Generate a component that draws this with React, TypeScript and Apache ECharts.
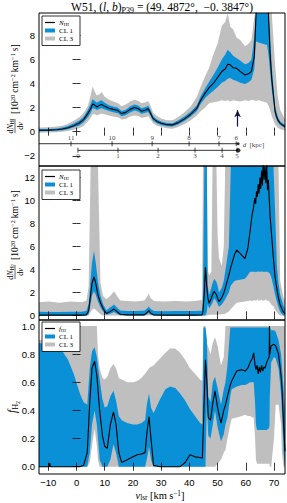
import React, { useEffect, useRef } from 'react';
import * as echarts from 'echarts';

// ---------------- data: panel 1 (H I column density) ----------------
const velHI = [-13.3,-10,-7,-5,-3,-1,1,2.5,4,5, 5.7,6.5,7.2,8.2,8.9,10,11.5,13,14.7,16, 17.5,19,20.6,22,23,24.5,25.4,26.3,27.1,28.5, 30,32,34,36,38.5,40.5,42.6,44,45.6,47, 48.5,50,51.5,52.7,53.6,54.5,55.5,56.8,58,59.7, 61,62,63,63.6,64.5,66,67.5,68,68.6,69.2, 70.4,71.3,72.2,73.9];
const nHI = [0.12,0.13,0.16,0.22,0.32,0.5,0.72,1.0,1.5,1.9, 2.3,2.2,2.05,2.2,2.25,2.1,1.95,1.85,1.75,1.5, 1.6,1.85,2.0,1.9,1.7,1.8,1.9,1.5,1.1,0.85, 0.7,0.58,0.56,0.75,1.1,1.45,1.93,2.6,3.2,3.65, 4.0,4.5,5.0,5.2,5.6,5.55,5.3,5.25,5.0,4.7, 4.8,5.0,6.2,9.5,14,16,14,10,6.5,4.4, 1.65,1.0,0.69,0.41];
const nHIcl1Lo = [0.04,0.05,0.07,0.12,0.2,0.36,0.52,0.78,1.2,1.55, 1.95,1.9,1.8,1.9,1.95,1.85,1.72,1.62,1.52,1.28, 1.38,1.6,1.75,1.65,1.48,1.56,1.63,1.28,0.92,0.7, 0.56,0.45,0.43,0.6,0.92,1.25,1.7,2.3,2.8,3.1, 3.4,3.7,4.05,4.2,4.4,4.45,4.3,4.2,4.05,3.95, 4.1,4.3,5.2,7.5,7.4,7.3,7.2,6.5,5.0,3.5, 1.3,0.8,0.55,0.3];
const nHIcl1Hi = [0.22,0.23,0.27,0.34,0.46,0.67,0.92,1.22,1.8,2.3, 2.7,2.55,2.4,2.55,2.6,2.4,2.2,2.08,1.98,1.72, 1.82,2.1,2.25,2.15,1.95,2.05,2.15,1.75,1.3,1.02, 0.85,0.72,0.7,0.92,1.3,1.68,2.18,2.95,3.6,4.15, 4.7,5.3,6.0,6.4,6.8,6.6,6.3,6.1,5.9,5.6, 5.7,6.0,7.8,14,20,22,20,15,8.2,5.4, 2.1,1.25,0.85,0.55];
const nHIcl3Lo = [-0.08,-0.07,-0.05,0,0.05,0.15,0.3,0.5,0.85,1.15, 1.45,1.45,1.35,1.45,1.5,1.45,1.35,1.25,1.2,1.0, 1.05,1.25,1.35,1.28,1.15,1.2,1.3,1.0,0.7,0.5, 0.38,0.28,0.25,0.38,0.65,0.95,1.35,1.7,2.0,2.35, 2.45,2.5,2.6,2.55,2.6,2.5,2.6,2.55,2.5,2.6, 2.55,2.65,2.6,2.55,2.6,2.5,2.4,2.2,1.8,1.3, 0.6,0.35,0.2,0.1];
const nHIcl3Hi = [0.35,0.37,0.42,0.5,0.65,0.9,1.2,1.55,2.1,3.0, 3.75,3.3,3.0,3.1,3.3,2.9,2.65,2.5,2.35,2.1, 2.25,2.5,2.65,2.55,2.35,2.45,2.55,2.1,1.6,1.3, 1.1,0.95,0.95,1.2,1.65,2.1,2.85,3.7,4.6,5.3, 6.4,7.3,8.8,9.1,9.8,8.7,8.5,7.8,7.6,7.1, 7.3,7.6,9.5,16,22,24,22,17,14,12, 5.5,3.0,1.8,1.0];

// distance scale inside panel 1 (kpc and the velocity where each tick sits)
const distNear = [11, 10, 9, 8, 7, 6];
const distNearVel = [-1.95, 12.6, 26.8, 39.9, 50.5, 56.6];
const distFar = [0, 1, 2, 3, 4, 5];
const distFarVel = [0.5, 14.7, 28.9, 42.0, 51.6, 56.9];
const distNearLevel = -1.0;
const distFarLevel = -1.55;
const distNearSpan = [-13.3, 57.3];
const distFarSpan = [0.5, 57.3];
const arrowVel = 57.1;
const arrowFromTo = [0.42, 1.78];

// ---------------- data: panel 2 (H2 column density) ----------------
const velH2 = [-13.3,-10,-6,-2,2,3.5,4.3,5.0,5.5,6.2, 6.8,7.6,8.5,9.4,10.6,12,13.3,14.5,15.5,18, 21,24,25,25.6,26.3,27.5,31,35,39,42, 44.5,44.8,45.3,45.7,46.2,46.5,47.0,47.8,48.2,48.8, 49.6,50.0,50.5,51.5,52.2,52.7,54.0,54.7,56.0,56.8, 58.0,59.7,60.7,61.5,62.2,62.7,63.2,63.5,63.8,64.1, 64.4,64.7,65.0,65.3,65.6,65.9,66.2,66.5,66.8,67.1, 67.4,67.7,68.0,68.3,68.6,69.2,69.8,70.4,71.0,71.6, 72.2,73.3,73.9];
const nH2 = [0.02,0.02,0.02,0.02,0.02,0.05,0.4,1.8,2.8,3.36, 2.8,1.77,1.1,0.6,0.17,0.35,0.55,0.3,0.1,0.05, 0.05,0.05,0.25,0.42,0.2,0.03,0.02,0.02,0.02,0.02, 0.05,0.3,2.0,4.2,2.4,1.6,1.05,1.5,1.8,2.1, 1.8,1.5,1.2,1.55,1.95,2.35,3.5,4.2,5.3,5.68, 5.4,4.95,5.8,7.3,8.7,9.3,10.2,9.7,10.8,10.3, 11.4,10.6,12.0,11.0,12.6,11.3,13.4,11.8,12.9,11.5, 13.2,10.9,11.8,10.2,8.7,6.8,4.95,3.3,2.35,1.5, 0.9,0.3,0.15];
const nH2cl1Lo = [0,0,0,0,0,0,0.1,1.0,1.7,2.1, 1.8,1.2,0.7,0.35,0.05,0.15,0.3,0.12,0.02,0, 0,0,0.08,0.2,0.06,0,0,0,0,0, 0,0,0,0,0.3,1.0,0.6,0.9,1.1,1.5, 1.2,1.0,0.75,0.95,1.2,1.4,2.0,2.6,3.0,3.05, 3.1,3.2,3.5,3.8,3.8,3.8,3.8,3.75,3.8,3.8, 3.85,3.8,3.8,3.8,3.85,3.8,3.8,3.8,3.8,3.8, 3.8,3.8,3.75,3.7,3.6,3.2,2.5,1.8,1.2,0.7, 0.3,0,0];
const nH2cl1Hi = [0.32,0.3,0.3,0.32,0.32,0.4,1.0,3.2,4.6,5.6, 4.6,2.9,1.7,1.0,0.45,0.7,0.95,0.65,0.42,0.38, 0.38,0.4,0.6,0.78,0.55,0.38,0.36,0.38,0.38,0.38, 0.4,1.5,16,16,16,2.6,1.8,2.4,2.8,3.2, 2.9,2.6,2.0,2.4,3.0,3.8,6.0,16,16,16, 16,16,16,16,16,16,16,16,16,16, 16,16,16,16,16,16,16,16,16,16, 16,16,16,16,16,16,16,9,4.5,2.8, 1.8,0.9,0.6];
const nH2cl3Lo = [0,0,0,0,0,0,0,0.3,0.5,0.6, 0.5,0.3,0.1,0,0,0,0,0,0,0, 0,0,0,0,0,0,0,0,0,0, 0,0,0,0,0,0,0.05,0.05,0.05,0.05, 0.05,0.05,0.05,0.1,0.12,0.15,0.35,0.55,0.9,1.1, 1.15,1.2,1.25,1.3,1.25,1.3,1.35,1.28,1.3,1.4, 1.3,1.25,1.35,1.3,1.38,1.3,1.25,1.35,1.3,1.4, 1.3,1.25,1.3,1.2,1.1,0.9,0.8,0.5,0.3,0.1, 0,0,0];
const nH2cl3Hi = [1.15,1.2,1.1,1.2,1.15,1.3,2.5,16,16,16, 16,16,2.8,1.7,1.4,1.7,2.1,1.65,1.3,1.25, 1.2,1.3,1.6,1.9,1.5,1.25,1.2,1.25,1.2,1.25, 1.35,16,16,16,16,4.0,3.5,3.8,16,16, 16,7,5,4.3,6,16,16,16,16,16, 16,16,16,16,16,16,16,16,16,16, 16,16,16,16,16,16,16,16,16,16, 16,16,16,16,16,16,16,16,16,16, 3.0,1.6,1.3];

// ---------------- data: panel 3 (molecular fraction) ----------------
const velF = [-13.3,-11,-9.7,-9.5,-9.3,-7,-5,-3,-1,1.2, 2.5,3.8,4.7,5.5,6.4,7.2,7.6,8.2,9.2,10.0, 10.9,12.0,13.1,14.0,15.0,16.0,18.0,20.0,21.5,23.0, 24.3,25.0,25.7,26.4,27.3,29.6,31.5,33.2,35.0,36.7, 38.5,40.2,42.0,43.8,44.6,45.0,45.7,46.2,46.7,47.5, 48.3,49.1,50.0,51.2,52.2,52.8,53.5,54.5,55.0,56.8, 58.6,59.8,60.7,61.5,62.3,62.8,63.3,63.6,64.0,64.4, 64.8,65.2,65.6,66.0,66.4,66.8,67.4,68.0,68.3,68.4, 68.5,69.0,70.0,70.6,71.6,72.5,72.8,73.4,73.9];
const fH2 = [0,0,0,0.025,0,0,0,0,0,0, 0.01,0.1,0.46,0.7,0.75,0.65,0.55,0.4,0.22,0.145, 0.13,0.3,0.39,0.3,0.1,0.03,0.05,0.07,0.085,0.09, 0.1,0.25,0.355,0.2,0.01,0,0,0,0,0, 0.03,0.085,0.07,0.065,0.06,0.3,0.76,0.6,0.35,0.33, 0.45,0.54,0.42,0.31,0.4,0.44,0.5,0.58,0.61,0.68, 0.69,0.68,0.7,0.74,0.77,0.81,0.72,0.69,0.72,0.66, 0.71,0.67,0.72,0.68,0.71,0.7,0.74,0.77,0.78,1.0, 0.8,0.86,0.87,0.86,0.8,0.65,0.57,0.3,0.11];
const fH2cl1Lo = [0,0,0,0,0,0,0,0,0,0, 0,0,0.1,0.3,0.4,0.3,0.2,0.05,0,0, 0,0.05,0.16,0.1,0,0,0,0,0,0, 0,0.06,0.14,0.05,0,0,0,0,0,0, 0,0,0,0,0,0,0,0.45,0.22,0.2, 0.3,0.4,0.28,0.18,0.23,0.3,0.35,0.5,0.55,0.57, 0.58,0.58,0.59,0.6,0.6,0.6,0.45,0.3,0.26,0.26, 0.26,0.26,0.26,0.26,0.26,0.26,0.26,0.27,0.28,0.3, 0.5,0.74,0.78,0.77,0.7,0.52,0.4,0.1,0];
const fH2cl1Hi = [0.88,0.87,0.87,0.87,0.87,0.86,0.82,0.76,0.66,0.52, 0.46,0.44,0.7,0.82,0.85,0.78,0.72,0.62,0.48,0.42, 0.43,0.5,0.54,0.47,0.36,0.33,0.31,0.3,0.3,0.31, 0.33,0.45,0.52,0.42,0.38,0.48,0.55,0.57,0.56,0.52, 0.47,0.41,0.36,0.31,0.3,0.99,0.99,0.9,0.5,0.46, 0.6,0.64,0.56,0.44,0.55,0.6,0.72,0.99,0.99,0.99, 0.99,0.99,0.99,0.99,0.99,0.99,0.99,0.99,0.99,0.99, 0.99,0.99,0.99,0.99,0.99,0.99,0.99,0.99,0.99,0.99, 0.99,0.97,0.97,0.96,0.9,0.8,0.72,0.55,0.4];
const fH2cl3Lo = [0,0,0,0,0,0,0,0,0,0, 0,0,0.03,0.15,0.27,0.15,0.05,0,0,0, 0,0,0,0,0,0,0,0,0,0, 0,0,0,0,0,0,0,0,0,0, 0,0,0,0,0,0,0,0,0,0, 0,0,0.02,0.05,0.1,0.12,0.2,0.3,0.34,0.35, 0.36,0.37,0.36,0.36,0.35,0.35,0.2,0.05,0.02,0.02, 0.02,0.02,0.02,0.02,0.02,0.02,0.02,0.02,0.02,0.02, 0,0,0.2,0.44,0.44,0.3,0.1,0,0];
const fH2cl3Hi = [0.9,0.9,0.91,0.91,0.91,0.93,0.96,0.97,1.0,1.0, 1.0,1.0,1.0,1.0,1.0,1.0,0.8,0.7,0.63,0.62, 0.64,0.7,0.73,0.7,0.63,0.62,0.6,0.6,0.61,0.63, 0.66,0.68,0.7,0.71,0.72,0.77,0.81,0.84,0.84,0.81, 0.76,0.7,0.66,0.62,0.61,1.0,1.0,0.88,0.85,0.8, 0.88,0.92,0.86,0.72,0.78,1.0,1.0,1.0,1.0,1.0, 1.0,1.0,1.0,1.0,1.0,1.0,1.0,1.0,1.0,1.0, 1.0,1.0,1.0,1.0,1.0,1.0,1.0,1.0,1.0,1.0, 1.0,1.0,1.0,1.0,1.0,1.0,1.0,1.0,1.0];

// ---------------- ticks ----------------
const velTicks = [-10, 0, 10, 20, 30, 40, 50, 60, 70];
const hiTicks = [-2, 0, 2, 4, 6, 8];
const h2Ticks = [0, 2, 4, 6, 8, 10, 12];
const fTicks = [0, 0.2, 0.4, 0.6, 0.8, 1.0];

// ---------------- styling / layout ----------------
const BLUE = '#0a90d6';
const GRAY = '#bfbfbf';
const SERIF = "'Liberation Serif', 'DejaVu Serif', serif";
const SANS = "'Liberation Sans', 'DejaVu Sans', sans-serif";
const X_MIN = -13.3;
const X_MAX = 73.9;
const PANELS = [
  { top: 13, height: 153, min: -2.85, max: 9.85, ticks: hiTicks, fmt: (v: number) => (v < 0 ? '\u2212' + Math.abs(v) : String(v)) },
  { top: 166, height: 154, min: -0.4, max: 13.0, ticks: h2Ticks, fmt: (v: number) => String(v) },
  { top: 320, height: 154, min: -0.052, max: 1.043, ticks: fTicks, fmt: (v: number) => v.toFixed(1) },
];
const LEFT = 39;
const WIDTH = 246;

function richSet(s: number, compact = false) {
  const lh = compact ? s * 1.0 : s * 1.3;
  return {
    r: { fontFamily: SERIF, fontSize: s, lineHeight: lh, verticalAlign: 'middle', color: '#000' },
    i: { fontFamily: SERIF, fontSize: s, fontStyle: 'italic', lineHeight: lh, verticalAlign: 'middle', color: '#000' },
    sup: { fontFamily: SERIF, fontSize: s * 0.7, lineHeight: s * 0.7, verticalAlign: 'top', color: '#000' },
    sub: { fontFamily: SERIF, fontSize: s * 0.7, lineHeight: s * 0.7, verticalAlign: 'top', padding: [compact ? s * 0.4 : s * 0.62, 0, 0, 0], color: '#000' },
    sub2: { fontFamily: SERIF, fontSize: s * 0.5, lineHeight: s * 0.5, verticalAlign: 'top', padding: [compact ? s * 0.55 : s * 0.95, 0, 0, 0], color: '#000' },
  };
}

function txt(x: number, y: number, text: string, size: number, align = 'left', valign = 'middle', z = 100, compact = false) {
  return {
    type: 'text', x, y, z,
    style: {
      text, rich: richSet(size, compact), fill: '#000', fontFamily: SERIF, fontSize: size,
      align, verticalAlign: valign, textAlign: align, textVerticalAlign: valign,
    },
  };
}

function legendEls(x: number, y: number, first: string) {
  const z = 100;
  return [
    { type: 'rect', z, shape: { x, y, width: 38, height: 29.5 }, style: { fill: '#fff', stroke: '#000', lineWidth: 0.8 } },
    { type: 'line', z: z + 1, shape: { x1: x + 3, y1: y + 6.5, x2: x + 13, y2: y + 6.5 }, style: { stroke: '#000', lineWidth: 1.2 } },
    { type: 'rect', z: z + 1, shape: { x: x + 3, y: y + 12.5, width: 10, height: 4 }, style: { fill: BLUE } },
    { type: 'rect', z: z + 1, shape: { x: x + 3, y: y + 20.5, width: 10, height: 4 }, style: { fill: GRAY } },
    txt(x + 17, y + 6.5, first, 7, 'left', 'middle', z + 1, true),
    txt(x + 17, y + 14.5, '{r|CL 1}', 7, 'left', 'middle', z + 1, true),
    txt(x + 17, y + 22.5, '{r|CL 3}', 7, 'left', 'middle', z + 1, true),
  ];
}

function yTitleFrac(cx: number, cy: number, numer: string) {
  return {
    type: 'group', x: cx, y: cy, rotation: Math.PI / 2,
    children: [
      txt(0, -0.5, numer, 8, 'center', 'bottom', 5, true),
      { type: 'line', z: 5, shape: { x1: -7, y1: 0.5, x2: 7, y2: 0.5 }, style: { stroke: '#000', lineWidth: 0.6 } },
      txt(0, 1.5, '{r|d}{i|v}', 8, 'center', 'top', 5, true),
      txt(12, 0.5, '{r|[10}{sup|20}{r|\u2009cm}{sup|\u22122}{r|\u2009km}{sup|\u22121}{r|\u2009s]}', 9.5, 'left', 'middle', 5),
    ],
  };
}

const pairs = (v: number[], y: number[]) => v.map((x, i) => [x, y[i]]);

function bandSeries(gi: number, v: number[], lo: number[], hi: number[], color: string, name: string) {
  const p = PANELS[gi];
  const cl = (y: number) => Math.max(p.min, Math.min(p.max, y));
  return {
    type: 'custom', name, xAxisIndex: gi * 2, yAxisIndex: gi * 2, clip: true, silent: true, z: 2,
    data: v.map((x, i) => [x, lo[i], hi[i]]),
    renderItem: (params: any, api: any) => {
      if (params.dataIndex !== 0) return null;
      const top = v.map((x, i) => api.coord([x, cl(hi[i])]));
      const bot = v.map((x, i) => api.coord([x, cl(lo[i])])).reverse();
      return { type: 'polygon', shape: { points: top.concat(bot) }, style: { fill: color, stroke: null } };
    },
  };
}

function lineSeries(gi: number, v: number[], y: number[], name: string) {
  return {
    type: 'line', name, xAxisIndex: gi * 2, yAxisIndex: gi * 2, data: pairs(v, y), clip: true,
    symbol: 'none', showSymbol: false, silent: true, lineStyle: { color: '#000', width: 1.1 }, z: 3,
  };
}

export default function App() {
  const ref = useRef<HTMLDivElement>(null);
  useEffect(() => {
    if (!ref.current) return;
    const chart = echarts.init(ref.current, undefined, { renderer: 'svg' });

    const grid = PANELS.map((p) => ({
      left: LEFT, top: p.top, width: WIDTH, height: p.height, show: true,
      borderColor: '#000', borderWidth: 1, backgroundColor: 'transparent', z: 10,
    }));

    const tick = (vals: number[]) => ({ show: true, inside: true, length: 4, customValues: vals, lineStyle: { color: '#000', width: 0.8 } });

    const xAxis: any[] = [];
    const yAxis: any[] = [];
    PANELS.forEach((p, gi) => {
      xAxis.push({
        type: 'value', gridIndex: gi, position: 'bottom', min: X_MIN, max: X_MAX, z: 10,
        axisLine: { show: false }, splitLine: { show: false }, axisTick: tick(velTicks),
        axisLabel: {
          show: gi === 2, customValues: velTicks, margin: 3, color: '#000', fontFamily: SANS, fontSize: 9.5,
          formatter: (v: number) => (v < 0 ? '\u2212' + Math.abs(v) : String(v)),
        },
      });
      xAxis.push({
        type: 'value', gridIndex: gi, position: 'top', min: X_MIN, max: X_MAX, z: 10,
        axisLine: { show: false }, splitLine: { show: false }, axisTick: tick(velTicks), axisLabel: { show: false },
      });
      yAxis.push({
        type: 'value', gridIndex: gi, position: 'left', min: p.min, max: p.max, z: 10,
        axisLine: { show: false }, splitLine: { show: false }, axisTick: tick(p.ticks),
        axisLabel: { show: true, customValues: p.ticks, margin: 4, color: '#000', fontFamily: SANS, fontSize: 9.5, formatter: p.fmt },
      });
      yAxis.push({
        type: 'value', gridIndex: gi, position: 'right', min: p.min, max: p.max, z: 10,
        axisLine: { show: false }, splitLine: { show: false }, axisTick: tick(p.ticks), axisLabel: { show: false },
      });
    });

    const distLabel = { fontFamily: SERIF, fontSize: 7, color: '#000' };

    const series: any[] = [
      bandSeries(0, velHI, nHIcl3Lo, nHIcl3Hi, GRAY, 'CL 3'),
      bandSeries(0, velHI, nHIcl1Lo, nHIcl1Hi, BLUE, 'CL 1'),
      lineSeries(0, velHI, nHI, 'N_HI'),
      bandSeries(1, velH2, nH2cl3Lo, nH2cl3Hi, GRAY, 'CL 3'),
      bandSeries(1, velH2, nH2cl1Lo, nH2cl1Hi, BLUE, 'CL 1'),
      lineSeries(1, velH2, nH2, 'N_H2'),
      bandSeries(2, velF, fH2cl3Lo, fH2cl3Hi, GRAY, 'CL 3'),
      bandSeries(2, velF, fH2cl1Lo, fH2cl1Hi, BLUE, 'CL 1'),
      lineSeries(2, velF, fH2, 'f_H2'),
      // distance scales
      {
        type: 'line', name: 'near distance', xAxisIndex: 0, yAxisIndex: 0, z: 6, silent: true, symbol: 'none',
        data: distNearSpan.map((v) => [v, distNearLevel]), lineStyle: { color: '#000', width: 0.8 },
        markLine: {
          silent: true, symbol: ['none', 'arrow'], symbolSize: [5, 7], label: { show: false },
          lineStyle: { color: '#14143c', width: 1.2, type: 'solid' },
          data: [[{ coord: [arrowVel, arrowFromTo[0]] }, { coord: [arrowVel, arrowFromTo[1]] }]],
        },
      },
      {
        type: 'line', name: 'far distance', xAxisIndex: 0, yAxisIndex: 0, z: 6, silent: true, symbol: 'none',
        data: distFarSpan.map((v) => [v, distFarLevel]), lineStyle: { color: '#000', width: 0.8 },
      },
      {
        type: 'scatter', name: 'near ticks', xAxisIndex: 0, yAxisIndex: 0, z: 6, silent: true,
        symbol: 'rect', symbolSize: [0.9, 5], itemStyle: { color: '#000' },
        data: distNearVel.map((v, i) => ({ value: [v, distNearLevel], name: String(distNear[i]) })),
        label: { show: true, position: 'top', distance: 0, formatter: '{b}', ...distLabel },
      },
      {
        type: 'scatter', name: 'far ticks', xAxisIndex: 0, yAxisIndex: 0, z: 6, silent: true,
        symbol: 'rect', symbolSize: [0.9, 5], itemStyle: { color: '#000' },
        data: distFarVel.map((v, i) => ({ value: [v, distFarLevel], name: String(distFar[i]) })),
        label: { show: true, position: 'bottom', distance: 0, formatter: '{b}', ...distLabel },
      },
      {
        type: 'scatter', name: 'scale ends', xAxisIndex: 0, yAxisIndex: 0, z: 7, silent: true,
        symbol: 'circle', itemStyle: { color: '#000' },
        data: [
          { value: [distNearSpan[1], distNearLevel], symbolSize: 3, label: {
            show: true, position: 'right', distance: 3, offset: [0, 1.5],
            formatter: '{i|d} {r|[kpc]}', rich: richSet(7, true),
          } },
          { value: [distFarSpan[1], distFarLevel], symbolSize: 4.5 },
        ],
      },
    ];

    const graphic: any[] = [
      txt(162, 6.5, '{r|W51, (}{i|l}{r|, }{i|b}{r|)}{sub|P39}{r| = (49. 4872\u00b0,  \u22120. 3847\u00b0)}', 11.5, 'center', 'middle', 100),
      ...legendEls(42, 16, '{i|N}{sub|HI}'),
      ...legendEls(42, 170, '{i|N}{sub|H}{sub2|2}'),
      ...legendEls(42, 322, '{i|f}{sub|H}{sub2|2}'),
      yTitleFrac(14.5, 126, '{r|d}{i|N}{sub|HI}'),
      yTitleFrac(14.5, 272, '{r|d}{i|N}{sub|H}{sub2|2}'),
      { type: 'group', x: 12, y: 407, rotation: Math.PI / 2, children: [txt(0, 0, '{i|f}{sub|H}{sub2|2}', 11.5, 'center', 'middle', 5)] },
      txt(160, 495.5, '{i|v}{sub|lsr}{r| [km\u2009s}{sup|\u22121}{r|]}', 10.5, 'center', 'middle', 5, true),
    ];

    chart.setOption({
      animation: false,
      backgroundColor: '#fff',
      grid, xAxis, yAxis, series, graphic,
    } as any);
    return () => chart.dispose();
  }, []);
  return <div ref={ref} style={{ position: 'absolute', left: 0, top: 0, width: 287, height: 503 }} />;
}
